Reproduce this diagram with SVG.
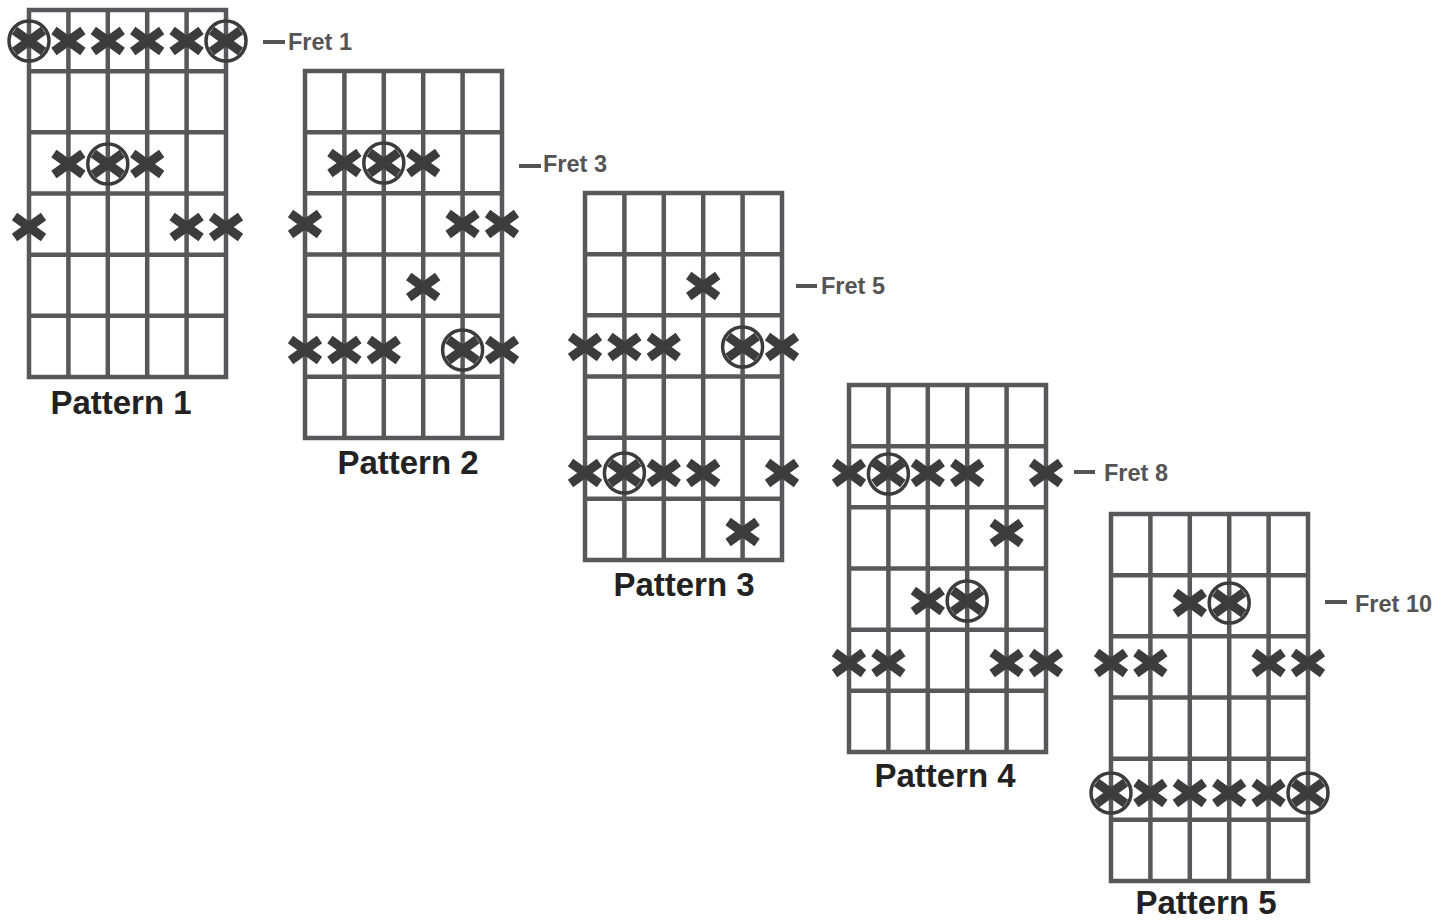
<svg xmlns="http://www.w3.org/2000/svg" xmlns:xlink="http://www.w3.org/1999/xlink" width="1453" height="920" viewBox="0 0 1453 920">
<style>
.grid{fill:none;stroke:#58585a;stroke-width:4.5}
.x{fill:none;stroke:#3c3c3c;stroke-width:9}
.c{fill:none;stroke:#3c3c3c;stroke-width:3.5}
.plabel{font-family:"Liberation Sans",Arial,sans-serif;font-weight:bold;font-size:33px;fill:#222;text-anchor:middle}
.flabel{font-family:"Liberation Sans",Arial,sans-serif;font-weight:bold;font-size:23.5px;fill:#555}
.dash{stroke:#555;stroke-width:4}
</style>
<defs>
<path id="grid" class="grid" d="M0,0H197V367H0Z M39.4,0V367 M78.8,0V367 M118.2,0V367 M157.6,0V367 M0,61.2H197 M0,122.3H197 M0,183.5H197 M0,244.7H197 M0,305.8H197"/>
<path id="x" class="x" d="M-14.5,-10.5L14.5,10.5M-14.5,10.5L14.5,-10.5"/>
<circle id="c" class="c" r="20"/>
</defs>
<rect width="1453" height="920" fill="#fff"/>

<g id="pattern1">
<use xlink:href="#grid" x="29" y="10"/>
<use xlink:href="#x" x="29" y="41"/><use xlink:href="#x" x="68.4" y="41"/><use xlink:href="#x" x="107.8" y="41"/><use xlink:href="#x" x="147.2" y="41"/><use xlink:href="#x" x="186.6" y="41"/><use xlink:href="#x" x="226" y="41"/>
<use xlink:href="#c" x="29" y="41"/><use xlink:href="#c" x="226" y="41"/>
<use xlink:href="#x" x="68.4" y="164"/><use xlink:href="#x" x="107.8" y="164"/><use xlink:href="#x" x="147.2" y="164"/><use xlink:href="#c" x="107.8" y="164"/>
<use xlink:href="#x" x="29" y="227"/><use xlink:href="#x" x="186.6" y="227"/><use xlink:href="#x" x="226" y="227"/>
<text class="plabel" x="121" y="414">Pattern 1</text>
<line class="dash" x1="263" y1="42" x2="285" y2="42"/>
<text class="flabel" x="288" y="50">Fret 1</text>
</g>

<g id="pattern2">
<use xlink:href="#grid" x="305" y="71"/>
<use xlink:href="#x" x="344.4" y="163"/><use xlink:href="#x" x="383.8" y="163"/><use xlink:href="#x" x="423.2" y="163"/><use xlink:href="#c" x="383.8" y="163"/>
<use xlink:href="#x" x="305" y="224"/><use xlink:href="#x" x="462.6" y="224"/><use xlink:href="#x" x="502" y="224"/>
<use xlink:href="#x" x="423.2" y="287"/>
<use xlink:href="#x" x="305" y="350"/><use xlink:href="#x" x="344.4" y="350"/><use xlink:href="#x" x="383.8" y="350"/><use xlink:href="#x" x="462.6" y="350"/><use xlink:href="#c" x="462.6" y="350"/><use xlink:href="#x" x="502" y="350"/>
<text class="plabel" x="408" y="474">Pattern 2</text>
<line class="dash" x1="519" y1="166" x2="541" y2="166"/>
<text class="flabel" x="543" y="172">Fret 3</text>
</g>

<g id="pattern3">
<use xlink:href="#grid" x="585" y="193"/>
<use xlink:href="#x" x="703.2" y="286"/>
<use xlink:href="#x" x="585" y="347"/><use xlink:href="#x" x="624.4" y="347"/><use xlink:href="#x" x="663.8" y="347"/><use xlink:href="#x" x="742.6" y="347"/><use xlink:href="#c" x="742.6" y="347"/><use xlink:href="#x" x="782" y="347"/>
<use xlink:href="#x" x="585" y="473"/><use xlink:href="#x" x="624.4" y="473"/><use xlink:href="#c" x="624.4" y="473"/><use xlink:href="#x" x="663.8" y="473"/><use xlink:href="#x" x="703.2" y="473"/><use xlink:href="#x" x="782" y="473"/>
<use xlink:href="#x" x="742.6" y="532"/>
<text class="plabel" x="684" y="596">Pattern 3</text>
<line class="dash" x1="796" y1="286" x2="817" y2="286"/>
<text class="flabel" x="821" y="294">Fret 5</text>
</g>

<g id="pattern4">
<use xlink:href="#grid" x="849" y="385"/>
<use xlink:href="#x" x="849" y="473"/><use xlink:href="#x" x="888.4" y="473"/><use xlink:href="#c" x="888.4" y="474"/><use xlink:href="#x" x="927.8" y="473"/><use xlink:href="#x" x="967.2" y="473"/><use xlink:href="#x" x="1046" y="473"/>
<use xlink:href="#x" x="1006.6" y="533"/>
<use xlink:href="#x" x="927.8" y="601"/><use xlink:href="#x" x="967.2" y="601"/><use xlink:href="#c" x="967.2" y="601"/>
<use xlink:href="#x" x="849" y="663"/><use xlink:href="#x" x="888.4" y="663"/><use xlink:href="#x" x="1006.6" y="663"/><use xlink:href="#x" x="1046" y="663"/>
<text class="plabel" x="945" y="787">Pattern 4</text>
<line class="dash" x1="1074" y1="472" x2="1095" y2="472"/>
<text class="flabel" x="1104" y="481">Fret 8</text>
</g>

<g id="pattern5">
<use xlink:href="#grid" x="1111" y="514"/>
<use xlink:href="#x" x="1189.8" y="603"/><use xlink:href="#x" x="1229.2" y="603"/><use xlink:href="#c" x="1229.2" y="603"/>
<use xlink:href="#x" x="1111" y="663"/><use xlink:href="#x" x="1150.4" y="663"/><use xlink:href="#x" x="1268.6" y="663"/><use xlink:href="#x" x="1308" y="663"/>
<use xlink:href="#x" x="1111" y="793"/><use xlink:href="#x" x="1150.4" y="793"/><use xlink:href="#x" x="1189.8" y="793"/><use xlink:href="#x" x="1229.2" y="793"/><use xlink:href="#x" x="1268.6" y="793"/><use xlink:href="#x" x="1308" y="793"/>
<use xlink:href="#c" x="1111" y="793"/><use xlink:href="#c" x="1308" y="793"/>
<text class="plabel" x="1206" y="914">Pattern 5</text>
<line class="dash" x1="1325" y1="602" x2="1347" y2="602"/>
<text class="flabel" x="1355" y="612">Fret 10</text>
</g>

<g id="connectors"/>
</svg>
